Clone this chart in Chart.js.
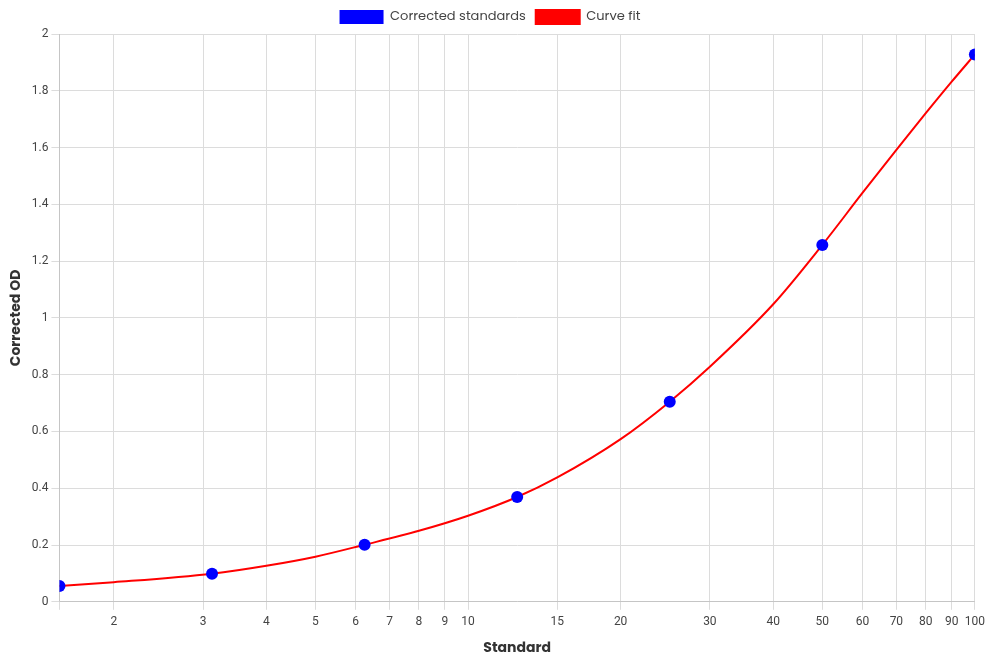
<!DOCTYPE html>
<html>
<head>
<meta charset="utf-8">
<script src="https://cdn.jsdelivr.net/npm/chart.js@4"></script>
<style>
  html, body { margin: 0; padding: 0; background: #fff; }
  #wrap { width: 990px; height: 660px; }
</style>
</head>
<body>
<div id="wrap"><canvas id="grafica"></canvas></div>
<script>
// Standards (measured) and their corrected OD
const standards = [1.5625, 3.125, 6.25, 12.5, 25, 50, 100];
const correctedOD = [0.056, 0.099, 0.201, 0.369, 0.705, 1.257, 1.928];

// Curve fit
const fitX = [1.5625, 2, 3.125, 4, 5, 6.25, 8, 10, 12.5, 15, 20, 25, 30, 40, 50, 60, 70, 80, 90, 100];
const fitY = [0.056, 0.069, 0.099, 0.127, 0.159, 0.201, 0.250, 0.303, 0.369, 0.438, 0.573, 0.705, 0.828, 1.048, 1.257, 1.440, 1.592, 1.721, 1.832, 1.928];

// Tick values on the x axis (first one is the axis minimum, unlabelled)
const xTicks = [1.5625, 2, 3, 4, 5, 6, 7, 8, 9, 10, 15, 20, 30, 40, 50, 60, 70, 80, 90, 100];
const yTicksMin = 0;
const yTicksMax = 2;
const yStep = 0.2;

const fuenteTitulo = 'Poppins, "Open Sans", sans-serif';
const fuenteTicks = 'Roboto, "Liberation Sans", Arial, sans-serif';

const ctx = document.getElementById('grafica').getContext('2d');
new Chart(ctx, {
  type: 'scatter',
  data: {
    datasets: [
      {
        label: 'Corrected standards',
        data: standards.map((s, i) => ({ x: s, y: correctedOD[i] })),
        backgroundColor: '#0000ff',
        borderColor: '#0000ff',
        pointRadius: 6,
        pointHoverRadius: 6,
        pointBorderWidth: 0,
        showLine: false
      },
      {
        label: 'Curve fit',
        data: fitX.map((s, i) => ({ x: s, y: fitY[i] })),
        backgroundColor: '#ff0000',
        borderColor: '#ff0000',
        borderWidth: 2,
        pointRadius: 0,
        showLine: true,
        cubicInterpolationMode: 'monotone'
      }
    ]
  },
  options: {
    responsive: true,
    maintainAspectRatio: false,
    animation: false,
    layout: { padding: { left: 4, right: 14, top: 0, bottom: 3 } },
    plugins: {
      legend: {
        position: 'top',
        labels: {
          boxWidth: 44,
          boxHeight: 14,
          color: '#444',
          font: { family: fuenteTitulo, size: 13 }
        }
      },
      tooltip: { enabled: false }
    },
    scales: {
      x: {
        type: 'logarithmic',
        min: xTicks[0],
        max: xTicks[xTicks.length - 1],
        afterBuildTicks: scale => {
          scale.ticks = xTicks.map(v => ({ value: v }));
        },
        title: {
          display: true,
          text: 'Standard',
          color: '#333',
          padding: { top: 6, bottom: 0 },
          font: { family: fuenteTitulo, size: 14, weight: 'bold' }
        },
        grid: { color: '#dcdcdc' },
        ticks: {
          color: '#444',
          padding: 5,
          maxRotation: 0,
          autoSkip: false,
          font: { family: fuenteTicks, size: 12 },
          callback: v => Number.isInteger(v) ? String(v) : ''
        }
      },
      y: {
        min: yTicksMin,
        max: yTicksMax,
        title: {
          display: true,
          text: 'Corrected OD',
          color: '#333',
          font: { family: fuenteTitulo, size: 14, weight: 'bold' }
        },
        grid: { color: '#dcdcdc' },
        ticks: {
          stepSize: yStep,
          color: '#444',
          font: { family: fuenteTicks, size: 12 },
          callback: v => String(Number(v.toFixed(1)))
        }
      }
    }
  }
});
</script>
</body>
</html>
